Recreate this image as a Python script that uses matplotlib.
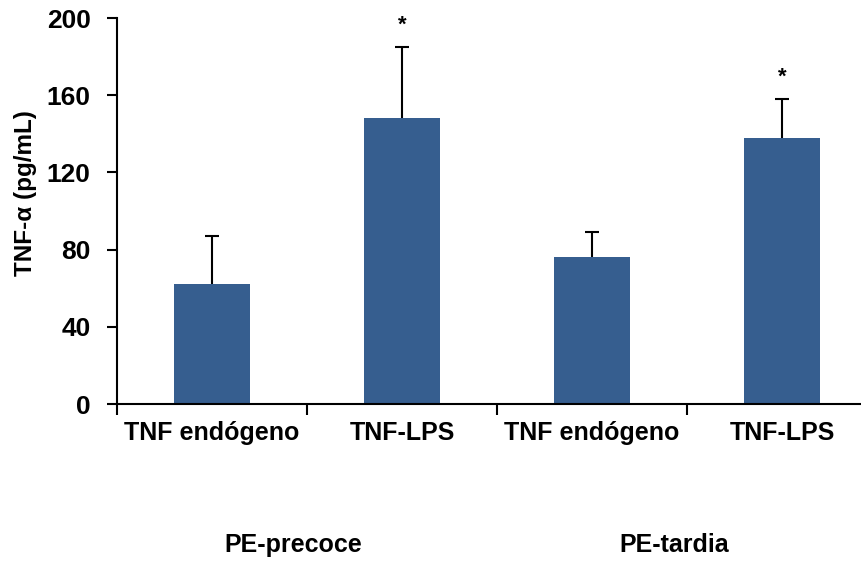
import matplotlib.pyplot as plt
from matplotlib import font_manager

#   Bar chart of TNF-alpha by group

categories = ['TNF endógeno', 'TNF-LPS', 'TNF endógeno', 'TNF-LPS']
groups = ['PE-precoce', 'PE-tardia']
means = [62, 148, 76, 138]
errors = [25, 37, 13, 20]
stars = ['', '*', '', '*']
yticks = [0, 40, 80, 120, 160, 200]

names = {f.name for f in font_manager.fontManager.ttflist}
narrow = 'Liberation Sans Narrow' if 'Liberation Sans Narrow' in names else 'Liberation Sans'

plt.rcParams['font.family'] = ['Liberation Sans', 'DejaVu Sans']

fig = plt.figure(figsize=(8.62, 5.63), dpi=100)
ax = fig.add_axes([117 / 862, 1 - 404 / 563, 760 / 862, 386 / 563])

x = list(range(len(categories)))
bar_color = '#365E8F'

ax.bar(x, means, width=0.4, color=bar_color, zorder=2)
_, caps, _ = ax.errorbar(x, means, yerr=[[0] * len(errors), errors], fmt='none',
    ecolor='black', elinewidth=1.5, capsize=5, capthick=1.5, zorder=3)

# only the upper half of the error bar is shown
caps[0].set_visible(False)

for xi, m, e, s in zip(x, means, errors, stars):
    if s:
        ax.text(xi, m + e + 6, s, ha='center', va='bottom',
            fontsize=16, fontweight='bold')

ax.set_xlim(-0.5, 3.5)
ax.set_ylim(0, 200)
ax.set_yticks(yticks)
ax.set_yticklabels([str(v) for v in yticks], fontsize=19, fontweight='bold')

# category ticks sit between the bars
ax.set_xticks([-0.5, 0.5, 1.5, 2.5, 3.5])
ax.set_xticklabels([])
ax.set_xticks(x, minor=True)
ax.set_xticklabels(categories, minor=True, fontsize=18, fontweight='bold',
    family=narrow)
ax.tick_params(axis='x', which='minor', length=0, pad=12)
ax.tick_params(axis='x', which='major', length=8, width=1.5, direction='out')
ax.tick_params(axis='y', length=7, width=1.5, pad=12)

for sp in ['top', 'right']:
    ax.spines[sp].set_visible(False)
for sp in ['left', 'bottom']:
    ax.spines[sp].set_linewidth(1.5)

ax.set_ylabel('TNF-α (pg/mL)', fontsize=17.5, fontweight='bold')
ax.yaxis.set_label_coords(-0.105, 0.547)

for gx, g in zip([0.5, 2.5], groups):
    ax.text(gx - 0.07, -0.365, g, transform=ax.get_xaxis_transform(),
        ha='center', va='center', fontsize=18, fontweight='bold', family=narrow)

fig.savefig('out.png', dpi=100)
